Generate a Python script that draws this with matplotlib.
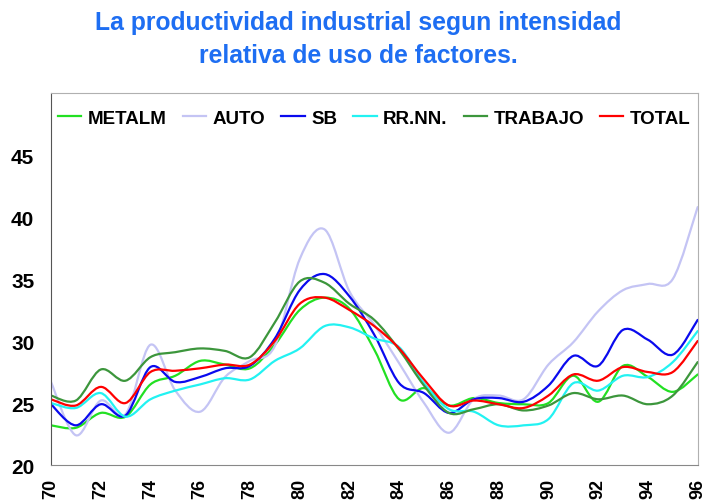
import numpy as np
import matplotlib
matplotlib.use('Agg')
import matplotlib.pyplot as plt
from matplotlib.path import Path
from matplotlib.patches import PathPatch
from matplotlib.lines import Line2D

# Data (yearly values, 1970-1996)
years = list(range(70, 97))

metalm = [23.2, 23.0, 24.2, 23.9, 26.5, 27.2, 28.4, 28.1, 27.8, 29.7, 32.5, 33.5, 32.6, 29.3,
          25.3, 26.2, 24.8, 25.4, 25.0, 24.9, 25.0, 27.2, 25.1, 28.0, 27.1, 25.9, 27.3]
auto = [26.7, 22.4, 25.2, 24.1, 29.7, 26.0, 24.3, 27.1, 28.4, 29.6, 36.6, 39.0, 34.0, 31.3,
        28.2, 25.0, 22.6, 25.3, 25.6, 25.3, 28.1, 29.9, 32.4, 34.1, 34.6, 35.0, 40.8]
sb = [24.9, 23.2, 24.9, 24.0, 27.9, 26.7, 27.1, 27.8, 28.0, 30.2, 34.1, 35.4, 33.6, 30.5,
      26.6, 25.8, 24.2, 25.3, 25.4, 25.1, 26.4, 28.8, 28.0, 30.9, 30.1, 28.9, 31.7]
rrnn = [25.0, 24.6, 25.8, 23.9, 25.3, 26.0, 26.5, 27.0, 26.9, 28.4, 29.4, 31.2, 31.1, 30.2,
        29.5, 26.6, 24.5, 24.3, 23.2, 23.2, 23.7, 26.6, 26.0, 27.2, 27.1, 28.3, 30.8]
trabajo = [25.6, 25.2, 27.7, 26.8, 28.7, 29.1, 29.4, 29.2, 28.7, 31.5, 34.8, 34.7, 33.0, 31.7,
           29.3, 26.4, 24.2, 24.5, 24.9, 24.4, 24.8, 25.8, 25.3, 25.6, 24.9, 25.6, 28.3]
total = [25.3, 24.8, 26.3, 25.0, 27.5, 27.6, 27.8, 28.1, 28.1, 30.0, 33.0, 33.5, 32.5, 31.2,
         29.4, 26.9, 24.8, 25.2, 24.9, 24.6, 25.6, 27.3, 26.8, 27.9, 27.5, 27.5, 30.0]

series = [
    ('METALM', metalm, '#22E022'),
    ('AUTO', auto, '#C4C4F4'),
    ('SB', sb, '#0A0AEE'),
    ('RR.NN.', rrnn, '#22F2F2'),
    ('TRABAJO', trabajo, '#3C963C'),
    ('TOTAL', total, '#FF0000'),
]


# Smooth line like the spreadsheet "smoothed line" option (Bezier through the points)
def smooth_path(x, y):
    x = np.asarray(x, dtype=float)
    y = np.asarray(y, dtype=float)
    n = len(x)
    verts = [(x[0], y[0])]
    codes = [Path.MOVETO]
    for i in range(n - 1):
        i0 = max(i - 1, 0)
        i3 = min(i + 2, n - 1)
        c1 = (x[i] + (x[i + 1] - x[i0]) / 6, y[i] + (y[i + 1] - y[i0]) / 6)
        c2 = (x[i + 1] - (x[i3] - x[i]) / 6, y[i + 1] - (y[i3] - y[i]) / 6)
        verts += [c1, c2, (x[i + 1], y[i + 1])]
        codes += [Path.CURVE4] * 3
    return Path(verts, codes)


fig = plt.figure(figsize=(7.04, 5.02), dpi=100)
ax = fig.add_axes([0.0724, 0.0717, 0.9186, 0.741])

handles = []
for name, vals, color in series:
    patch = PathPatch(smooth_path(years, vals), facecolor='none', edgecolor=color,
                      lw=1.6, capstyle='round', joinstyle='round')
    ax.add_patch(patch)
    handles.append(Line2D([], [], color=color, lw=1.6, label=name))

ax.set_xlim(70, 96)
ax.set_ylim(20, 50)
ax.set_xticks(range(70, 97, 2))
ax.set_yticks(range(20, 50, 5))
ax.tick_params(length=0)
ax.tick_params(axis='x', pad=9, labelrotation=90)
ax.tick_params(axis='y', pad=12)
for lab in ax.get_yticklabels():
    lab.set_fontfamily('Liberation Sans')
    lab.set_fontweight('bold')
    lab.set_fontsize(15)
for lab in ax.get_xticklabels():
    lab.set_fontfamily('Liberation Sans')
    lab.set_fontweight('bold')
    lab.set_fontsize(13)

ax.spines['left'].set_color('#555555')
ax.spines['bottom'].set_color('#888888')
ax.spines['top'].set_color('#B0B0B0')
ax.spines['right'].set_color('#B0B0B0')

leg = ax.legend(handles=handles, loc='upper center', bbox_to_anchor=(0.5, 1.0), ncol=6,
                frameon=False, handlelength=1.25, handletextpad=0.35, columnspacing=0.85,
                prop={'family': 'Liberation Sans', 'weight': 'bold', 'size': 13.5})

fig.text(0.509, 0.978, 'La productividad industrial segun intensidad\nrelativa de uso de factores.',
         ha='center', va='top', fontsize=17.8, fontweight='bold', color='#1E6EF2',
         family='Liberation Sans', linespacing=1.45)

fig.savefig('out.png', dpi=100)
